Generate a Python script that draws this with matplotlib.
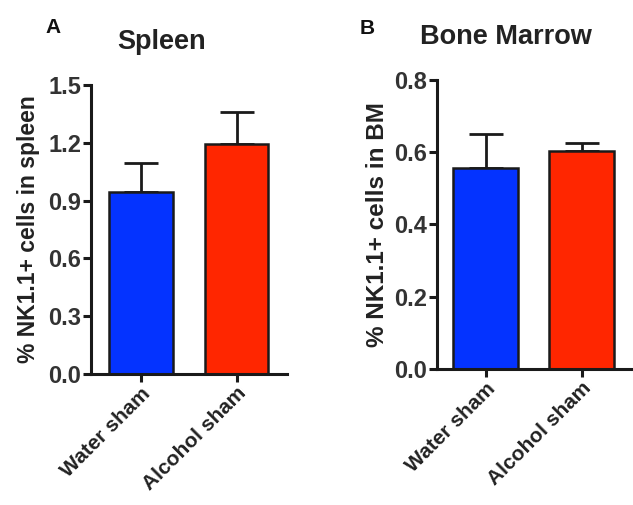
import matplotlib
matplotlib.use("Agg")
import matplotlib.pyplot as plt

groups = ["Water sham", "Alcohol sham"]
colors = ["#0433ff", "#ff2600"]

spleen_mean = [0.945, 1.195]
spleen_err = [0.15, 0.165]
bm_mean = [0.556, 0.603]
bm_err = [0.094, 0.023]

plt.rcParams['font.family'] = ['Liberation Sans', 'DejaVu Sans']
plt.rcParams['font.weight'] = 'bold'

fig = plt.figure(figsize=(6.33, 5.05), dpi=100)
ink = "#1a1a1a"


def panel(ax, means, errs, ticks, ylim, xlim, title, tx, ylabel, lsize, lpad):
    x = list(range(len(means)))
    ax.bar(x, means, width=0.67, color=colors, edgecolor=ink, linewidth=1.8, zorder=2)
    ax.errorbar(x, means, yerr=[[0] * len(errs), errs], fmt='none', ecolor=ink,
                elinewidth=2, capsize=12, capthick=2, zorder=1)
    ax.set_xlim(*xlim)
    ax.set_ylim(*ylim)
    ax.set_yticks(ticks)
    ax.set_yticklabels([f"{t:.1f}" for t in ticks], fontsize=17, fontweight='bold', color="#333333")
    ax.set_xticks(x)
    ax.set_xticklabels(groups, rotation=45, ha='right', rotation_mode='anchor',
                       fontsize=15, fontweight='bold', color="#222222")
    for s in ['top', 'right']:
        ax.spines[s].set_visible(False)
    for s in ['left', 'bottom']:
        ax.spines[s].set_linewidth(2.2)
        ax.spines[s].set_color(ink)
    ax.tick_params(axis='both', width=2.2, length=6, color=ink, pad=1)
    ax.set_ylabel(ylabel, fontsize=lsize, fontweight='bold', color="#222222", labelpad=lpad)
    ax.set_title(title, fontsize=19.5, fontweight='bold', color="#222222", pad=26, x=tx)


ax1 = fig.add_axes([0.1438, 0.2594, 0.3096, 0.5723])
panel(ax1, spleen_mean, spleen_err, [0.0, 0.3, 0.6, 0.9, 1.2, 1.5], (0, 1.5),
      (-0.524, 1.529), "Spleen", 0.362, "% NK1.1+ cells in spleen", 16.5, 6)

ax2 = fig.add_axes([0.6904, 0.2693, 0.3096, 0.5723])
panel(ax2, bm_mean, bm_err, [0.0, 0.2, 0.4, 0.6, 0.8], (0, 0.8),
      (-0.505, 1.536), "Bone Marrow", 0.352, "% NK1.1+ cells in BM", 17.5, 4)

fig.text(0.084, 0.946, "A", fontsize=15, fontweight='bold', va='center', ha='center', color="#111111")
fig.text(0.58, 0.944, "B", fontsize=15, fontweight='bold', va='center', ha='center', color="#111111")

fig.savefig("out.png", dpi=100)
